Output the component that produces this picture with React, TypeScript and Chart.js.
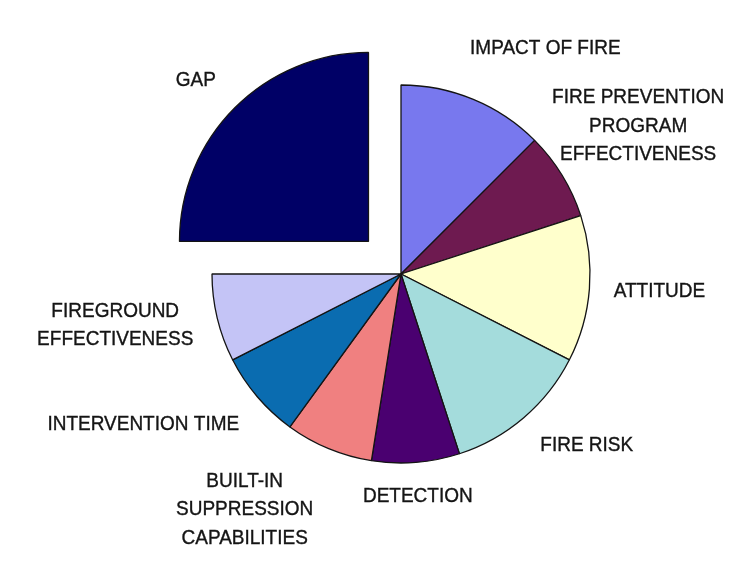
import React, { useEffect, useRef } from "react";
import { Chart, registerables } from "chart.js";

Chart.register(...registerables);

const categories = [
  "IMPACT OF FIRE",
  "FIRE PREVENTION PROGRAM EFFECTIVENESS",
  "ATTITUDE",
  "FIRE RISK",
  "DETECTION",
  "BUILT-IN SUPPRESSION CAPABILITIES",
  "INTERVENTION TIME",
  "FIREGROUND EFFECTIVENESS",
  "GAP",
];

const labelLines = [
  ["IMPACT OF FIRE"],
  ["FIRE PREVENTION", "PROGRAM", "EFFECTIVENESS"],
  ["ATTITUDE"],
  ["FIRE RISK"],
  ["DETECTION"],
  ["BUILT-IN", "SUPPRESSION", "CAPABILITIES"],
  ["INTERVENTION TIME"],
  ["FIREGROUND", "EFFECTIVENESS"],
  ["GAP"],
];

const values = [12.5, 7.5, 12.5, 12.5, 7.5, 7.5, 7.5, 7.5, 25];

const colors = [
  "#7878EE",
  "#6E1A50",
  "#FFFFCC",
  "#A4DCDC",
  "#4A0070",
  "#F08080",
  "#0A6CB0",
  "#C4C4F6",
  "#000066",
];

const explode = [0, 0, 0, 0, 0, 0, 0, 0, 184];

// label centre offsets from each slice's outer mid-point
const labelOffsets: [number, number][] = [
  [72, -51],
  [76, -49],
  [70, 3],
  [63, 28],
  [2, 34],
  [-84, 61],
  [-114, 28],
  [-102, 7],
  [-39, -27],
];

const LINE_HEIGHT = 28.5;

const labelPlugin = {
  id: "sliceLabels",
  afterDatasetsDraw(chart: any) {
    const ctx = chart.ctx;
    const meta = chart.getDatasetMeta(0);
    ctx.save();
    ctx.fillStyle = "#151515";
    ctx.strokeStyle = "#151515";
    ctx.lineWidth = 0.35;
    ctx.font = "19px 'Liberation Sans', Arial, sans-serif";
    ctx.textAlign = "center";
    ctx.textBaseline = "middle";
    meta.data.forEach((arc: any, i: number) => {
      const mid = (arc.startAngle + arc.endAngle) / 2;
      const off = (arc.options.offset || 0) / 4;
      const cx = arc.x + Math.cos(mid) * off;
      const cy = arc.y + Math.sin(mid) * off;
      const px = cx + Math.cos(mid) * arc.outerRadius + labelOffsets[i][0];
      const py = cy + Math.sin(mid) * arc.outerRadius + labelOffsets[i][1];
      const lines = labelLines[i];
      const startY = py - ((lines.length - 1) * LINE_HEIGHT) / 2;
      lines.forEach((line, j) => {
        ctx.save();
        ctx.translate(px, startY + j * LINE_HEIGHT);
        ctx.scale(1, 1.08);
        ctx.fillText(line, 0, 0);
        ctx.strokeText(line, 0, 0);
        ctx.restore();
      });
    });
    ctx.restore();
  },
};

export default function App() {
  const ref = useRef<HTMLCanvasElement | null>(null);

  useEffect(() => {
    document.body.style.margin = "0";
    document.body.style.background = "#ffffff";
    if (!ref.current) return;
    const chart = new Chart(ref.current, {
      type: "pie",
      data: {
        labels: categories,
        datasets: [
          {
            data: values,
            backgroundColor: colors,
            borderColor: "#141414",
            borderWidth: 1.3,
            offset: explode,
            hoverOffset: 0,
          } as any,
        ],
      },
      options: {
        responsive: false,
        animation: false,
        devicePixelRatio: 1,
        radius: 189,
        layout: { padding: { left: 56, right: 0, top: 0, bottom: 28 } },
        plugins: {
          legend: { display: false },
          tooltip: { enabled: false },
        },
        events: [],
      } as any,
      plugins: [labelPlugin],
    });
    return () => chart.destroy();
  }, []);

  return (
    <div style={{ width: 746, height: 576, background: "#fff" }}>
      <canvas ref={ref} width={746} height={576} style={{ display: "block" }} />
    </div>
  );
}
